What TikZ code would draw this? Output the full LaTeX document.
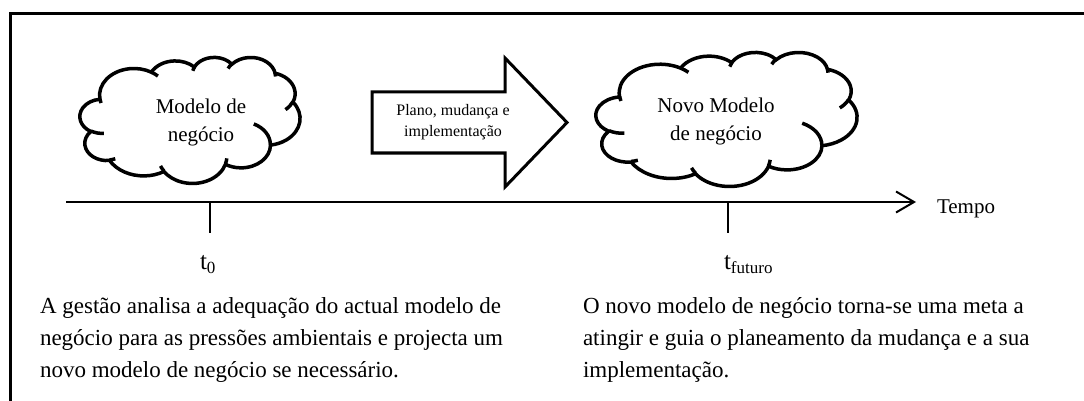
\documentclass[tikz,border=0pt]{standalone}
\usepackage{fontspec}
\setmainfont{Liberation Serif}
\usetikzlibrary{arrows.meta}
% visual (OOXML) angle -> parametric angle, negated for y-up canvas
\newcommand\setang[5]{%
 \pgfmathsetmacro\tmpa{atan2(#2*sin(#4), #3*cos(#4))}%
 \pgfmathsetmacro\tmpb{atan2(#2*sin(#4+#5), #3*cos(#4+#5))}%
 \pgfmathsetmacro\tmpc{\tmpa + mod(\tmpb - \tmpa + 720, 360)}%
 \pgfmathsetmacro\tmpa{-\tmpa}\pgfmathsetmacro\tmpc{-\tmpc}%
 \expandafter\global\expandafter\let\csname cl#1s\endcsname\tmpa
 \expandafter\global\expandafter\let\csname cl#1e\endcsname\tmpc}
\setang{A}{6.753}{9.190}{-190.4874833}{123.7805333}
\setang{B}{5.333}{7.267}{-144.1023833}{89.9452333}
\setang{C}{4.365}{5.945}{-145.8079167}{99.7230167}
\setang{D}{4.857}{6.595}{-130.9860667}{117.2417333}
\setang{E}{5.333}{7.273}{-78.7088833}{109.0269167}
\setang{F}{6.775}{9.220}{-46.26725}{130.269}
\setang{G}{5.785}{7.867}{0.6250167}{114.0333333}
\setang{H}{6.752}{9.215}{22.4516}{115.17255}
\setang{I}{7.720}{10.543}{66.2426333}{75.7110167}
\setang{J}{4.360}{5.918}{-274.9420833}{146.7355667}
\setang{K}{4.345}{5.945}{-246.8285}{152.51885}
\setang{a}{4.345}{5.945}{86.742}{26.4295}
\setang{b}{4.360}{5.918}{73.61047}{11.44747}
\setang{c}{6.752}{9.215}{137.62415}{14.0811}
\setang{d}{6.752}{9.215}{6.45327}{15.99835}
\setang{e}{5.785}{7.867}{-70.29235}{70.91737}
\setang{f}{5.333}{7.273}{30.31803}{27.7515}
\setang{g}{4.857}{6.595}{-13.74433}{14.8589}
\setang{h}{4.857}{6.595}{-149.18145}{18.19537}
\setang{i}{4.365}{5.945}{-163.49427}{17.68635}
\setang{j}{6.753}{9.190}{-66.70695}{12.31935}
\setang{k}{6.753}{9.190}{157.65435}{11.85817}
\newcommand\cloudarc[3]{arc[start angle=\csname cl#1s\endcsname, end angle=\csname cl#1e\endcsname, x radius=#2pt, y radius=#3pt]}
\newcommand\drawcloud[4]{%
\begin{scope}[shift={(#1,#2)}, xscale=#3/43.2, yscale=#4/43.2]
\draw[cloudline, fill=white] (3.9pt,-14.37pt)
 \cloudarc{A}{6.753}{9.190} \cloudarc{B}{5.333}{7.267}
 \cloudarc{C}{4.365}{5.945} \cloudarc{D}{4.857}{6.595}
 \cloudarc{E}{5.333}{7.273} \cloudarc{F}{6.775}{9.220}
 \cloudarc{G}{5.785}{7.867} \cloudarc{H}{6.752}{9.215}
 \cloudarc{I}{7.720}{10.543} \cloudarc{J}{4.360}{5.918}
 \cloudarc{K}{4.345}{5.945} -- cycle;
\draw[cloudline]
 (4.693pt,-26.177pt) \cloudarc{a}{4.345}{5.945}
 (6.928pt,-34.899pt) \cloudarc{b}{4.360}{5.918}
 (16.478pt,-39.090pt) \cloudarc{c}{6.752}{9.215}
 (28.827pt,-34.751pt) \cloudarc{d}{6.752}{9.215}
 (34.129pt,-22.954pt) \cloudarc{e}{5.785}{7.867}
 (41.798pt,-15.354pt) \cloudarc{f}{5.333}{7.273}
 (38.324pt,-5.426pt) \cloudarc{g}{4.857}{6.595}
 (29.078pt,-3.952pt) \cloudarc{h}{4.857}{6.595}
 (22.141pt,-4.720pt) \cloudarc{i}{4.365}{5.945}
 (14.000pt,-5.192pt) \cloudarc{j}{6.753}{9.190}
 (4.127pt,-15.789pt) \cloudarc{k}{6.753}{9.190};
\end{scope}}
\newcommand\tsub[1]{\raisebox{-4pt}{\fontsize{17pt}{20pt}\selectfont #1}}
\tikzset{
 cloudline/.style={line width=3.5pt},
 blockarrow/.style={line width=3pt, line join=miter, fill=white},
 axisline/.style={line width=2pt},
 txt/.style={inner sep=0pt, outer sep=0pt},
 cloudtxt/.style={txt, font=\fontsize{21pt}{25pt}\selectfont, anchor=base},
 bodytxt/.style={txt, font=\fontsize{23pt}{27pt}\selectfont, anchor=base west},
 ttxt/.style={txt, font=\fontsize{25pt}{30pt}\selectfont, anchor=base west},
}
\begin{document}
\begin{tikzpicture}[x=1pt, y=-1pt]
\useasboundingbox (0,0) rectangle (1084,401);
% frame
\draw[line width=3.2pt, line join=miter] (10.8,405) -- (10.8,13.7) -- (1090,13.7);
% clouds
\drawcloud{80}{57}{220}{126}
\drawcloud{596}{52}{261}{134}
\node[cloudtxt] (c1a) at (201,114) {Modelo de};
\node[cloudtxt] (c1b) at (201,141.5) {negócio};
\node[cloudtxt] (c2a) at (716,112.7) {Novo Modelo};
\node[cloudtxt] (c2b) at (716,140.7) {de negócio};
% block arrow
\draw[blockarrow] (372,92) -- (505,92) -- (505,58) -- (567,122.5) -- (505,187) -- (505,153) -- (372,153) -- cycle;
\node[txt, font=\fontsize{16pt}{20pt}\selectfont, anchor=base] (p1) at (453,116) {Plano, mudança e};
\node[txt, font=\fontsize{16pt}{20pt}\selectfont, anchor=base] (p2) at (453,136.7) {implementação};
% time axis
\coordinate (axs) at (66,202);
\coordinate (axe) at (916,202);
\draw[axisline, -{Straight Barb[length=18pt, width=21pt, line width=2pt]}] (axs) -- (axe);
\node[txt, font=\fontsize{21pt}{25pt}\selectfont, anchor=base west] (tempo) at (937,213) {Tempo};
\coordinate (k0a) at (210,202);
\coordinate (k0b) at (210,233);
\coordinate (kfa) at (728,202);
\coordinate (kfb) at (728,233);
\draw[axisline] (k0a) -- (k0b);
\draw[axisline] (kfa) -- (kfb);
\node[ttxt] (t0) at (200,269) {t\tsub{0}};
\node[ttxt] (tf) at (724,269) {t\tsub{futuro}};
% descriptions
\node[bodytxt] (d1a) at (40,313) {A gestão analisa a adequação do actual modelo de};
\node[bodytxt] (d1b) at (40,345) {negócio para as pressões ambientais e projecta um};
\node[bodytxt] (d1c) at (40,377) {novo modelo de negócio se necessário.};
\node[bodytxt] (d2a) at (583,313) {O novo modelo de negócio torna-se uma meta a};
\node[bodytxt] (d2b) at (583,345) {atingir e guia o planeamento da mudança e a sua};
\node[bodytxt] (d2c) at (583,377) {implementação.};
\end{tikzpicture}
\end{document}
